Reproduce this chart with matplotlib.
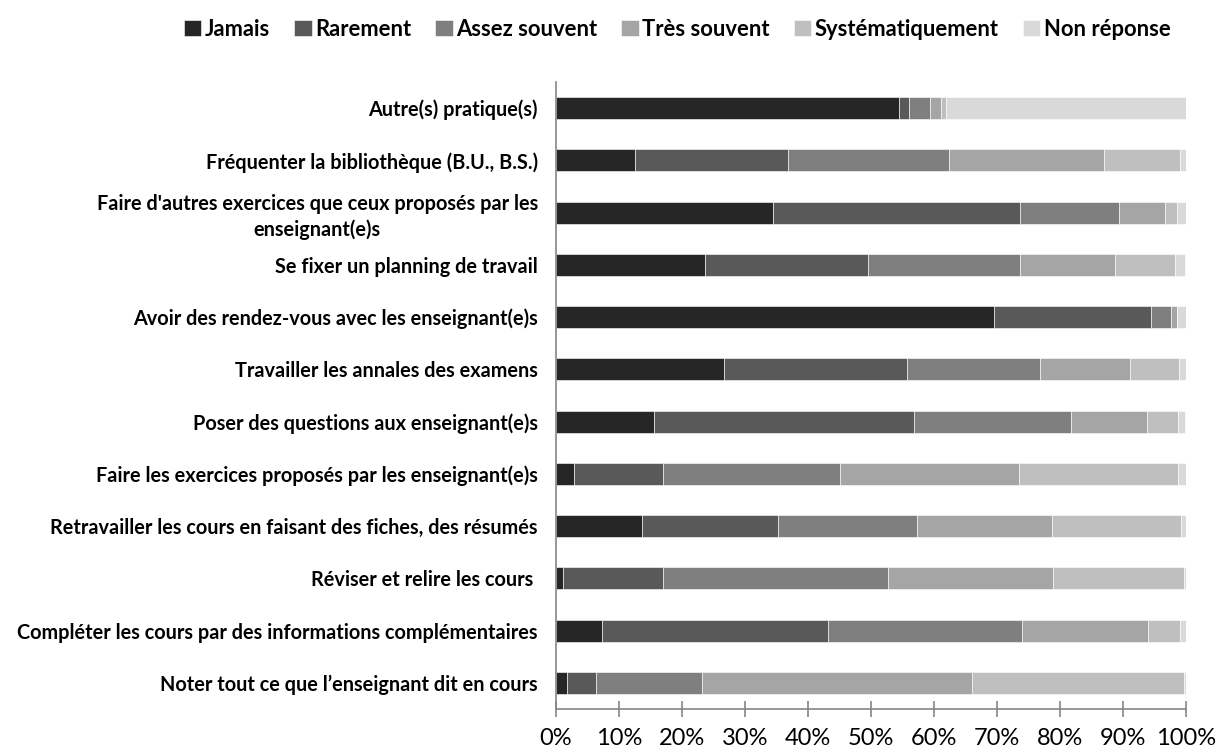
import numpy as np
import matplotlib
matplotlib.use("Agg")
import matplotlib.pyplot as plt

# categories listed top to bottom as in the chart
categories = [
    "Autre(s) pratique(s)",
    "Fréquenter la bibliothèque (B.U., B.S.)",
    "Faire d'autres exercices que ceux proposés par les\nenseignant(e)s",
    "Se fixer un planning de travail",
    "Avoir des rendez-vous avec les enseignant(e)s",
    "Travailler les annales des examens",
    "Poser des questions aux enseignant(e)s",
    "Faire les exercices proposés par les enseignant(e)s",
    "Retravailler les cours en faisant des fiches, des résumés",
    "Réviser et relire les cours ",
    "Compléter les cours par des informations complémentaires",
    "Noter tout ce que l\u2019enseignant dit en cours",
]
series_names = ["Jamais", "Rarement", "Assez souvent", "Très souvent",
                "Systématiquement", "Non réponse"]

jamais = [54.4, 12.6, 34.4, 23.6, 69.6, 26.6, 15.6, 2.9, 13.7, 1.1, 7.3, 1.7]
rarement = [1.7, 24.3, 39.3, 26.0, 24.8, 29.1, 41.2, 14.1, 21.5, 15.9, 35.8, 4.6]
assez = [3.3, 25.5, 15.7, 24.1, 3.2, 21.2, 24.9, 28.1, 22.1, 35.7, 30.9, 16.9]
tres = [1.7, 24.6, 7.3, 15.1, 1.0, 14.2, 12.1, 28.4, 21.5, 26.2, 19.9, 42.8]
systematique = [0.8, 12.1, 1.9, 9.4, 0.0, 7.8, 4.9, 25.2, 20.4, 20.8, 5.2, 33.7]
non_reponse = [38.1, 0.9, 1.4, 1.7, 1.4, 1.1, 1.2, 1.3, 0.8, 0.4, 0.9, 0.3]

colors = ["#262626", "#595959", "#7f7f7f", "#a5a5a5", "#bfbfbf", "#d9d9d9"]

plt.rcParams['font.family'] = ['Lato', 'DejaVu Sans']

fig = plt.figure(figsize=(12.18, 7.54), dpi=100)
ax = fig.add_axes([0.4565, 0.0597, 0.5172, 0.8316])

all_series = [jamais, rarement, assez, tres, systematique, non_reponse]
y = np.arange(len(categories))[::-1]
left = np.zeros(len(categories))
for name, vals, col in zip(series_names, all_series, colors):
    vals = np.array(vals)
    ax.barh(y, vals, left=left, height=0.42, color=col, label=name,
            edgecolor="white", linewidth=0.4)
    left += vals

ax.set_xlim(0, 100)
ax.set_ylim(-0.5, len(categories) - 0.5)
ax.set_yticks(y)
ax.set_yticklabels(categories, fontsize=14.3, fontweight="bold", ha="right",
                   multialignment="center", linespacing=1.3)
ax.tick_params(axis="y", length=0, pad=13)

ax.set_xticks(np.arange(0, 101, 10))
ax.set_xticklabels([f"{v}%" for v in range(0, 101, 10)], fontsize=17)
ax.tick_params(axis="x", direction="inout", length=11, width=1.2,
               color="#868686", pad=8)

for s in ["top", "right"]:
    ax.spines[s].set_visible(False)
for s in ["left", "bottom"]:
    ax.spines[s].set_color("#868686")
    ax.spines[s].set_linewidth(1.2)

fig.legend(loc="center", bbox_to_anchor=(0.556, 0.9615), ncol=6,
           frameon=False, prop={"weight": "bold", "size": 15.8},
           handlelength=0.8, handleheight=0.8, handletextpad=0.15,
           columnspacing=1.1)

fig.savefig("out.png", dpi=100)
